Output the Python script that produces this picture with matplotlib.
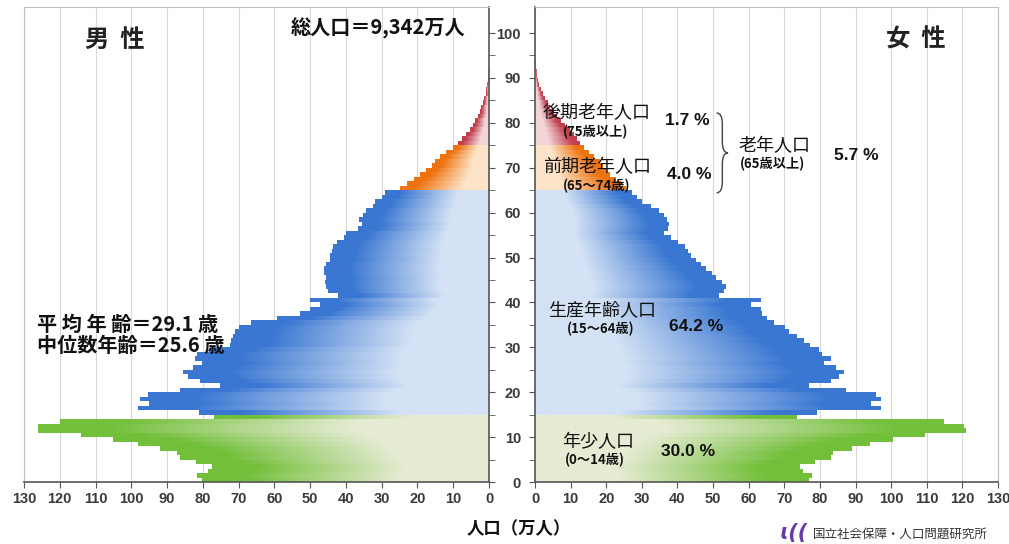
import numpy as np
import matplotlib
matplotlib.use('Agg')
import matplotlib.pyplot as plt
from matplotlib.colors import LinearSegmentedColormap
from matplotlib.path import Path
from matplotlib.patches import PathPatch

plt.rcParams['font.family'] = ['Noto Sans CJK JP', 'DejaVu Sans']

# 年齢別人口（万人）, 0歳〜93歳
ages = list(range(0, 94))
male = [80.3, 81.5, 78.5, 77.5, 82.0, 86.5, 87.3, 92.0, 98.0, 105.0,
        114.0, 126.0, 126.0, 120.0, 77.0, 81.0, 98.2, 95.0, 97.6, 95.2,
        86.4, 75.2, 80.8, 84.1, 85.5, 82.8, 80.3, 82.2, 81.7, 78.0,
        72.5, 72.0, 71.5, 71.0, 70.0, 66.4, 59.4, 52.8, 50.0, 47.2,
        50.0, 42.3, 45.0, 45.5, 45.8, 45.6, 46.0, 46.1, 45.5, 44.5,
        44.4, 44.0, 43.5, 42.6, 40.5, 40.0, 36.6, 35.6, 36.3, 35.2,
        34.5, 32.5, 31.9, 30.0, 29.0, 25.0, 23.0, 21.0, 19.3, 17.5,
        16.0, 15.0, 13.8, 12.0, 10.0, 8.6, 7.5, 6.4, 5.3, 4.5,
        3.8, 3.2, 2.6, 2.1, 1.7, 1.3, 0.95, 0.7, 0.5, 0.3,
        0.18, 0.08, 0.0, 0.0]
female = [76.8, 77.7, 75.2, 74.3, 78.5, 83.0, 83.5, 89.0, 94.0, 100.5,
          109.5, 121.0, 120.3, 114.7, 73.5, 79.0, 97.1, 94.1, 97.1, 95.5,
          87.1, 76.8, 82.9, 85.2, 86.6, 84.3, 81.0, 82.9, 80.5, 79.6,
          77.2, 75.4, 73.5, 71.2, 70.0, 66.9, 65.1, 63.7, 63.2, 60.6,
          63.2, 51.5, 52.9, 53.5, 52.4, 50.6, 49.6, 47.8, 46.5, 45.0,
          43.8, 42.8, 42.0, 40.0, 38.0, 36.0, 37.2, 37.6, 36.9, 36.0,
          34.6, 32.3, 30.0, 28.6, 27.2, 25.5, 24.0, 22.5, 21.0, 20.0,
          19.0, 18.0, 16.5, 15.0, 13.5, 12.6, 11.7, 10.8, 9.7, 8.4,
          7.2, 6.1, 5.1, 4.2, 3.5, 2.8, 2.2, 1.6, 1.1, 0.7,
          0.45, 0.3, 0.15, 0.05]

# 年齢区分: (開始, 終了, 淡色, 濃色)
groups = [(0, 15, '#e6ebd3', '#72bf3a'),
          (15, 65, '#d4e2f5', '#3a77d2'),
          (65, 75, '#fde4c8', '#ee7210'),
          (75, 200, '#f3d5d9', '#c23f4e')]

xticks = list(range(0, 131, 10))


def gradient_bars(ax, a, v, light, dark):
    cmap = LinearSegmentedColormap.from_list(
        'g', [(0, light), (0.3, light), (0.85, dark), (1, dark)])
    bars = ax.barh(a, v, height=1.0, align='edge', color='none',
                   edgecolor='none', zorder=2)
    grad = np.linspace(0, 1, 256).reshape(1, -1)
    for b in bars:
        w = b.get_width()
        if w <= 0:
            continue
        im = ax.imshow(grad, cmap=cmap, aspect='auto', origin='lower',
                       interpolation='bilinear', zorder=2,
                       extent=(b.get_x(), b.get_x() + w,
                               b.get_y(), b.get_y() + b.get_height()))
        im.set_clip_path(b)


def draw_side(ax, vals):
    for lo, hi, light, dark in groups:
        sel = [i for i, a in enumerate(ages) if lo <= a < hi]
        gradient_bars(ax, [ages[i] for i in sel], [vals[i] for i in sel],
                      light, dark)


def brace(ax, x, y0, y1, w, color='#444444'):
    ym = (y0 + y1) / 2
    r = 2.5
    verts = [(x, y1), (x + w / 2, y1), (x + w / 2, y1 - r),
             (x + w / 2, ym + r),
             (x + w / 2, ym), (x + w, ym),
             (x + w / 2, ym), (x + w / 2, ym - r),
             (x + w / 2, y0 + r),
             (x + w / 2, y0), (x, y0)]
    codes = [Path.MOVETO, Path.CURVE3, Path.CURVE3, Path.LINETO,
             Path.CURVE3, Path.CURVE3, Path.CURVE3, Path.CURVE3,
             Path.LINETO, Path.CURVE3, Path.CURVE3]
    ax.add_patch(PathPatch(Path(verts, codes), fill=False, edgecolor=color,
                           lw=1.0, zorder=5, clip_on=False))


fig = plt.figure(figsize=(10.09, 5.44), dpi=100)
ax_l = fig.add_axes([24 / 1009, 62 / 544, 465 / 1009, 475 / 544])
ax_r = fig.add_axes([535 / 1009, 62 / 544, 463 / 1009, 475 / 544])

draw_side(ax_l, male)
draw_side(ax_r, female)

dark = '#555555'
light = '#c0c0c0'
for ax in (ax_l, ax_r):
    ax.set_ylim(0, 105.8)
    ax.set_xticks(xticks)
    ax.set_yticks(range(0, 101, 10))
    ax.set_yticks(range(5, 101, 10), minor=True)
    ax.grid(axis='x', color='#d8d8d8', lw=0.8, zorder=0)
    ax.set_axisbelow(True)
    ax.tick_params(axis='both', which='both', direction='out', length=4,
                   color=dark, labelcolor='#3a3a3a')
    for lab in ax.get_xticklabels():
        lab.set_fontfamily(['Liberation Sans', 'DejaVu Sans'])
        lab.set_fontweight('bold')
        lab.set_fontsize(10.5)

ax_l.set_xlim(130, 0)
ax_r.set_xlim(0, 130)

ax_l.yaxis.tick_right()
ax_l.tick_params(axis='y', which='both', labelright=False)
ax_r.tick_params(axis='y', which='major', pad=6)
for lab in ax_r.get_yticklabels():
    lab.set_fontfamily(['Liberation Sans', 'DejaVu Sans'])
    lab.set_fontweight('bold')
    lab.set_fontsize(10.5)

for s in ('right', 'bottom'):
    ax_l.spines[s].set_color(dark)
    ax_l.spines[s].set_linewidth(1.2)
for s in ('left', 'top'):
    ax_l.spines[s].set_color(light)
for s in ('left', 'bottom'):
    ax_r.spines[s].set_color(dark)
    ax_r.spines[s].set_linewidth(1.2)
for s in ('right', 'top'):
    ax_r.spines[s].set_color(light)

num = ['Liberation Sans', 'Noto Sans CJK JP']

# 左側の注記
ax_l.text(104.5, 98.5, '男  性', fontsize=17.5, fontweight='bold',
          color='#222222', ha='center', va='center')
ax_l.text(31, 101, '総人口＝9,342万人', fontsize=14.5, fontweight='bold',
          ha='center', va='center', color='#111111')
ax_l.text(126.5, 35.0, '平 均 年 齢＝29.1 歳', fontsize=14.5,
          fontweight='bold', ha='left', va='center', color='#111111')
ax_l.text(126.5, 30.4, '中位数年齢＝25.6 歳', fontsize=14.5,
          fontweight='bold', ha='left', va='center', color='#111111')

# 右側の注記
ax_r.text(107, 98.5, '女  性', fontsize=17.5, fontweight='bold',
          color='#222222', ha='center', va='center')
ax_r.text(2.2, 82.2, '後期老年人口', fontsize=13, ha='left', va='center',
          color='#111111')
ax_r.text(7.7, 78.0, '(75歳以上)', fontsize=9.5, fontweight='bold',
          ha='left', va='center', color='#111111')
ax_r.text(36.5, 80.5, '1.7 %', fontsize=12.5, fontweight='bold',
          ha='left', va='center', family=num, color='#111111')
ax_r.text(2.2, 70.2, '前期老年人口', fontsize=13, ha='left', va='center',
          color='#111111')
ax_r.text(7.7, 65.9, '(65〜74歳)', fontsize=9.5, fontweight='bold',
          ha='left', va='center', color='#111111')
ax_r.text(37.0, 68.4, '4.0 %', fontsize=12.5, fontweight='bold',
          ha='left', va='center', family=num, color='#111111')
brace(ax_r, 51.0, 64.4, 82.2, 3.2)
ax_r.text(57.0, 74.8, '老年人口', fontsize=13, ha='left', va='center',
          color='#111111')
ax_r.text(57.5, 70.8, '(65歳以上)', fontsize=9.5, fontweight='bold',
          ha='left', va='center', color='#111111')
ax_r.text(84.0, 72.8, '5.7 %', fontsize=12.5, fontweight='bold',
          ha='left', va='center', family=num, color='#111111')
ax_r.text(3.7, 38.0, '生産年齢人口', fontsize=13, ha='left', va='center',
          color='#111111')
ax_r.text(9.0, 34.0, '(15〜64歳)', fontsize=9.5, fontweight='bold',
          ha='left', va='center', color='#111111')
ax_r.text(37.5, 34.7, '64.2 %', fontsize=12.5, fontweight='bold',
          ha='left', va='center', family=num, color='#111111')
ax_r.text(7.5, 8.9, '年少人口', fontsize=13, ha='left', va='center',
          color='#111111')
ax_r.text(8.3, 4.9, '(0〜14歳)', fontsize=9.5, fontweight='bold',
          ha='left', va='center', color='#111111')
ax_r.text(35.5, 6.9, '30.0 %', fontsize=12.5, fontweight='bold',
          ha='left', va='center', family=num, color='#111111')

fig.text(519 / 1009, 1 - 529 / 544, '人口（万人）', fontsize=12.5,
         fontweight='bold', ha='center', va='center', color='#111111')
fig.text(780 / 1009, 1 - 533 / 544, 'ɩ((', fontsize=15, fontweight='bold',
         style='italic', ha='left', va='center', color='#6a3aa8',
         family=['DejaVu Sans'])
fig.text(813 / 1009, 1 - 534 / 544, '国立社会保障・人口問題研究所', fontsize=9,
         ha='left', va='center', color='#333333')

fig.savefig('out.png', dpi=100)
